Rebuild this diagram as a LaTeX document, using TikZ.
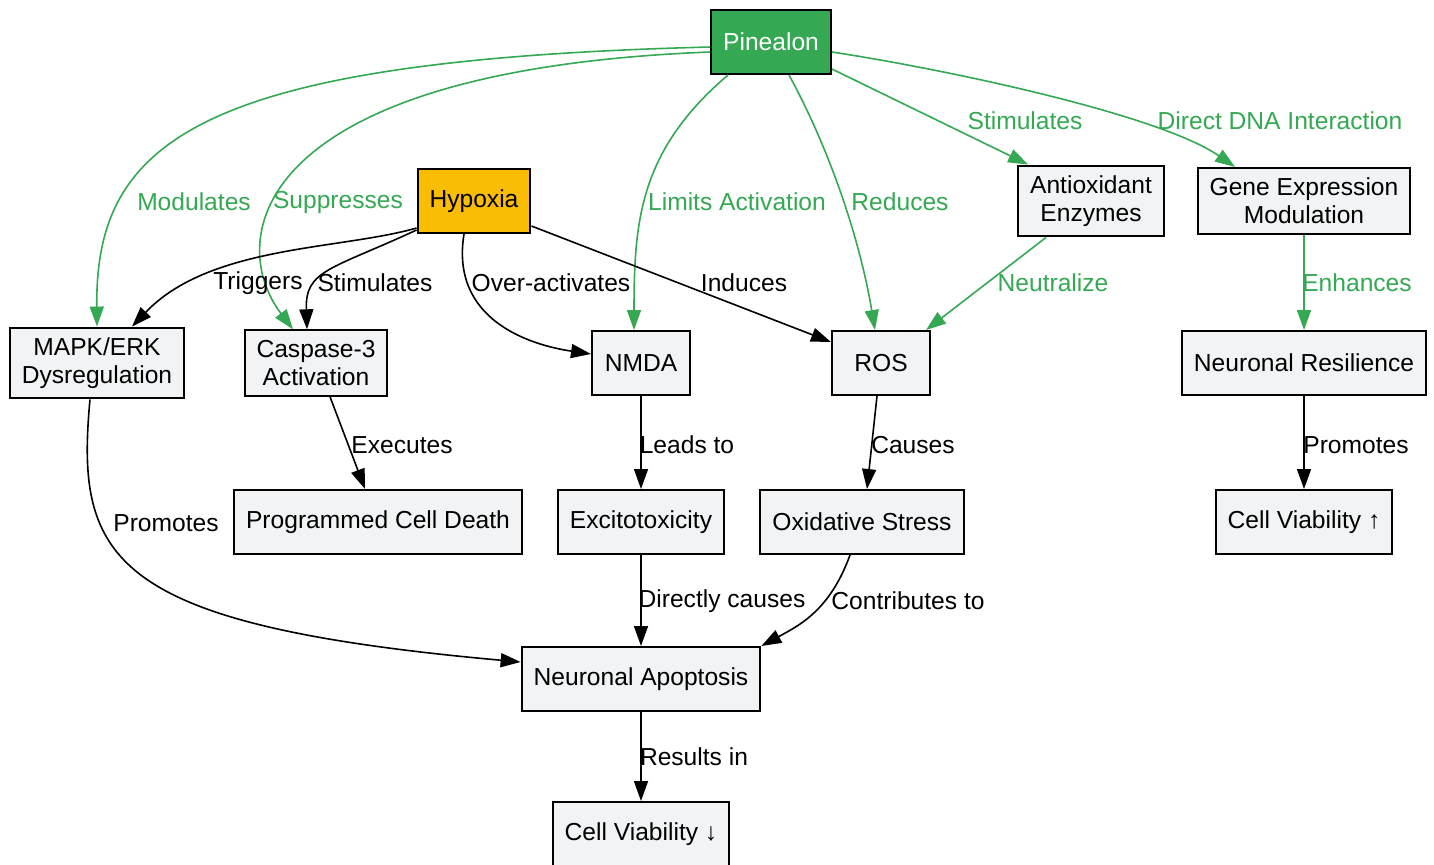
\documentclass[tikz,border=0pt]{standalone}
\usepackage{fontspec}
\setmainfont{Liberation Sans}
\usepackage{xcolor}
\usepackage{tikz}
\usetikzlibrary{arrows.meta, calc, positioning}
\definecolor{pgreen}{HTML}{34A853}
\definecolor{hyellow}{HTML}{FBBC05}
\definecolor{boxgray}{HTML}{F1F3F4}
\tikzset{
    entity/.style={draw=black, fill=boxgray, line width=1pt, inner xsep=6pt, inner ysep=5pt, minimum height=32pt, minimum width=49pt, align=center, font=\fontsize{12.3}{14}\selectfont},
    source/.style={entity, fill=pgreen, text=white},
    trigger/.style={entity, fill=hyellow},
    glink/.style={draw=pgreen, line width=0.8pt, -{Triangle[length=10pt,width=7pt]}},
    blink/.style={draw=black, line width=0.8pt, -{Triangle[length=10pt,width=7pt]}},
    glabel/.style={text=pgreen, inner sep=1pt, font=\fontsize{12.3}{14}\selectfont},
    blabel/.style={text=black, inner sep=1pt, font=\fontsize{12.3}{14}\selectfont}
}
\begin{document}
\begin{tikzpicture}[x=0.5pt, y=-0.5pt]
    \useasboundingbox (0,0) rectangle (1434,864);
    % top row
    \node[source]  (pin)    at (771,42)   {Pinealon};
    \node[trigger] (hyp)    at (474,201)  {Hypoxia};
    \node[entity]  (antiox) at (1091,201) {Antioxidant\\Enzymes};
    \node[entity]  (gene)   at (1304,201) {Gene Expression\\Modulation};
    % middle row
    \node[entity]  (mapk)   at (97,363)   {MAPK/ERK\\Dysregulation};
    \node[entity]  (casp)   at (316,363)  {Caspase-3\\Activation};
    \node[entity]  (nmda)   at (641,363)  {NMDA};
    \node[entity]  (ros)    at (881,363)  {ROS};
    \node[entity]  (resil)  at (1304,363) {Neuronal Resilience};
    % lower rows
    \node[entity]  (pcd)    at (378,522)  {Programmed Cell Death};
    \node[entity]  (excito) at (641,522)  {Excitotoxicity};
    \node[entity]  (oxs)    at (862,522)  {Oxidative Stress};
    \node[entity]  (cvup)   at (1304,522) {Cell Viability \textuparrow};
    \node[entity]  (apop)   at (641,679)  {Neuronal Apoptosis};
    \node[entity]  (cvdown) at (641,834)  {Cell Viability \textdownarrow};

    % Pinealon effects
    \draw[glink] ($(pin.west)+(0,5)$) .. controls (200,60) and (95,140) .. (mapk.north);
    \draw[glink] ($(pin.west)+(0,10)$) .. controls (250,70) and (225,240) .. ($(casp.north)+(-23,0)$);
    \draw[glink] ($(pin.south)+(-43,0)$) .. controls (640,150) and (634,220) .. ($(nmda.north)+(-7,0)$);
    \draw[glink] ($(pin.south)+(18,0)$) .. controls (830,150) and (860,240) .. ($(ros.north)+(-6,0)$);
    \draw[glink] ($(pin.east)+(0,27)$) -- ($(antiox.north west)+(11,0)$);
    \draw[glink] ($(pin.east)+(0,10)$) .. controls (950,70) and (1160,115) .. ($(gene.north)+(-69,0)$);
    \draw[glink] ($(antiox.south)+(-45,0)$) -- ($(ros.north east)+(-5,0)$);
    \draw[glink] (gene) -- (resil);
    \node[glabel] (lmod) at (194,202)  {Modulates};
    \node[glabel] (lsup) at (338,202)  {Suppresses};
    \node[glabel] (llim) at (737,202)  {Limits Activation};
    \node[glabel] (lred) at (900,202)  {Reduces};
    \node[glabel] (lsti) at (1025,121) {Stimulates};
    \node[glabel] (ldna) at (1280,121) {Direct DNA Interaction};
    \node[glabel] (lneu) at (1053,283) {Neutralize};
    \node[glabel] (lenh) at (1357,283) {Enhances};

    % Hypoxia effects
    \draw[blink] ($(hyp.west)+(0,27)$) .. controls (340,250) and (210,245) .. ($(mapk.north)+(35,0)$);
    \draw[blink] ($(hyp.west)+(0,29)$) .. controls (330,270) and (305,270) .. ($(casp.north)+(-9,0)$);
    \draw[blink] ($(hyp.south)+(-10,0)$) .. controls (450,320) and (530,345) .. ($(nmda.west)+(0,-9)$);
    \draw[blink] ($(hyp.east)+(0,25)$) -- ($(ros.west)+(0,-21)$);
    \node[blabel] (ltri) at (258,283) {Triggers};
    \node[blabel] (lst2) at (375,283) {Stimulates};
    \node[blabel] (lover) at (551,283) {Over-activates};
    \node[blabel] (lind) at (744,283) {Induces};

    % downstream chain
    \draw[blink] ($(mapk.south)+(-7,0)$) .. controls (75,560) and (110,625) .. ($(apop.west)+(0,-17)$);
    \draw[blink] ($(casp.south)+(14,0)$) -- ($(pcd.north)+(-13,0)$);
    \draw[blink] (nmda) -- (excito);
    \draw[blink] ($(ros.south)+(-4,0)$) -- ($(oxs.north)+(5,0)$);
    \draw[blink] (excito) -- (apop);
    \draw[blink] ($(oxs.south)+(-12,0)$) .. controls (830,610) and (800,625) .. (apop.north east);
    \draw[blink] (apop) -- (cvdown);
    \draw[blink] (resil) -- (cvup);
    \node[blabel] (lpro) at (166,523)  {Promotes};
    \node[blabel] (lexe) at (402,445)  {Executes};
    \node[blabel] (llea) at (687,445)  {Leads to};
    \node[blabel] (lcau) at (913,445)  {Causes};
    \node[blabel] (ldir) at (722,601)  {Directly causes};
    \node[blabel] (lcon) at (908,601)  {Contributes to};
    \node[blabel] (lres) at (694,757)  {Results in};
    \node[blabel] (lpr2) at (1356,445) {Promotes};
\end{tikzpicture}
\end{document}
